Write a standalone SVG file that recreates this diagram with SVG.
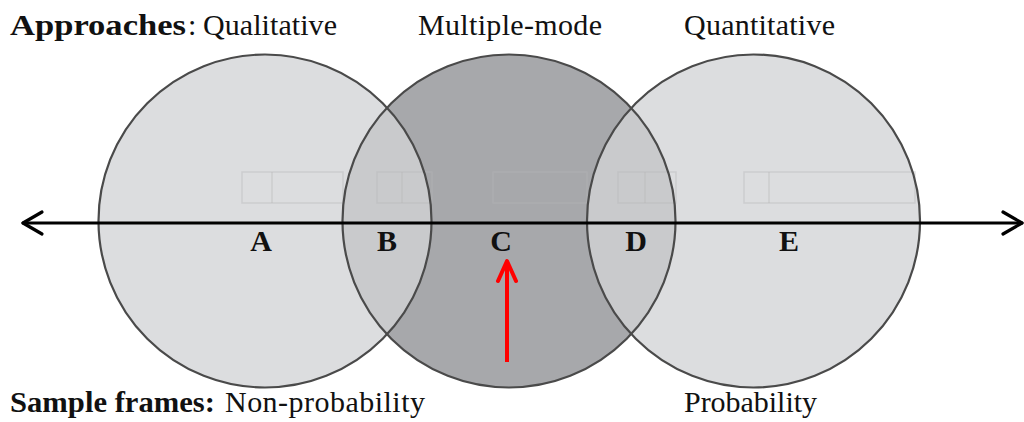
<svg xmlns="http://www.w3.org/2000/svg" width="1024" height="422" viewBox="0 0 1024 422">
<style>
.lbl{font-family:"Liberation Serif","Times New Roman",serif;font-size:30px;fill:#111}
.b{font-weight:bold}
.let{font-family:"Liberation Serif","Times New Roman",serif;font-size:30px;font-weight:bold;fill:#111;text-anchor:middle}
.ring{fill:none;stroke:#4a4a4a;stroke-width:2.2}
.ghost{fill:none;stroke:#b5b5b7;stroke-opacity:0.4;stroke-width:1.5}
.axis{fill:none;stroke:#000;stroke-width:3.2;stroke-linecap:round;stroke-linejoin:round}
</style>
<defs>
<clipPath id="clipMid"><circle cx="509" cy="221" r="166.5"/></clipPath>
</defs>
<rect width="1024" height="422" fill="#fff"/>
<g id="fills">
<circle cx="265" cy="221" r="166.5" fill="#dcdddf"/>
<circle cx="753.5" cy="221" r="166.5" fill="#dcdddf"/>
<circle cx="509" cy="221" r="166.5" fill="#a7a8ab"/>
<g clip-path="url(#clipMid)">
<circle cx="265" cy="221" r="166.5" fill="#c9cacc"/>
<circle cx="753.5" cy="221" r="166.5" fill="#c9cacc"/>
</g>
</g>
<g id="ghost-boxes">
<rect class="ghost" x="242" y="172" width="101" height="31"/>
<line class="ghost" x1="272" y1="172" x2="272" y2="203"/>
<rect class="ghost" x="377" y="172" width="55" height="31"/>
<line class="ghost" x1="402" y1="172" x2="402" y2="203"/>
<rect class="ghost" x="493" y="172" width="94" height="31"/>
<rect class="ghost" x="618" y="172" width="58" height="31"/>
<line class="ghost" x1="645" y1="172" x2="645" y2="203"/>
<rect class="ghost" x="744" y="172" width="171" height="31"/>
<line class="ghost" x1="769" y1="172" x2="769" y2="203"/>
</g>
<g id="node-qualitative"><circle class="ring" cx="265" cy="221" r="166.5"/></g>
<g id="node-multiple-mode"><circle class="ring" cx="509" cy="221" r="166.5"/></g>
<g id="node-quantitative"><circle class="ring" cx="753.5" cy="221" r="166.5"/></g>
<g id="connectors">
<line class="axis" x1="23" y1="223" x2="1022" y2="223"/>
<polyline class="axis" points="42,212 23,223 42,234"/>
<polyline class="axis" points="1003,212 1022,223 1003,234"/>
<line x1="507" y1="362" x2="507" y2="261" stroke="#ff0000" stroke-width="4"/>
<polyline points="498,281 507,261 516,281" fill="none" stroke="#ff0000" stroke-width="4" stroke-linecap="round" stroke-linejoin="round"/>
</g>
<g id="region-labels">
<text class="let" x="261" y="251">A</text>
<text class="let" x="387" y="251">B</text>
<text class="let" x="501" y="251">C</text>
<text class="let" x="636" y="251">D</text>
<text class="let" x="789" y="251">E</text>
</g>
<g id="titles">
<text class="lbl b" x="10" y="35" textLength="176" lengthAdjust="spacingAndGlyphs">Approaches</text>
<text class="lbl" x="188" y="35">:</text>
<text class="lbl" x="203" y="35" textLength="134">Qualitative</text>
<text class="lbl" x="418" y="35" textLength="184">Multiple-mode</text>
<text class="lbl" x="684" y="35" textLength="151">Quantitative</text>
<text class="lbl b" x="10" y="412" textLength="205" lengthAdjust="spacingAndGlyphs">Sample frames:</text>
<text class="lbl" x="225" y="412" textLength="200">Non-probability</text>
<text class="lbl" x="684" y="412" textLength="133">Probability</text>
</g>
</svg>
